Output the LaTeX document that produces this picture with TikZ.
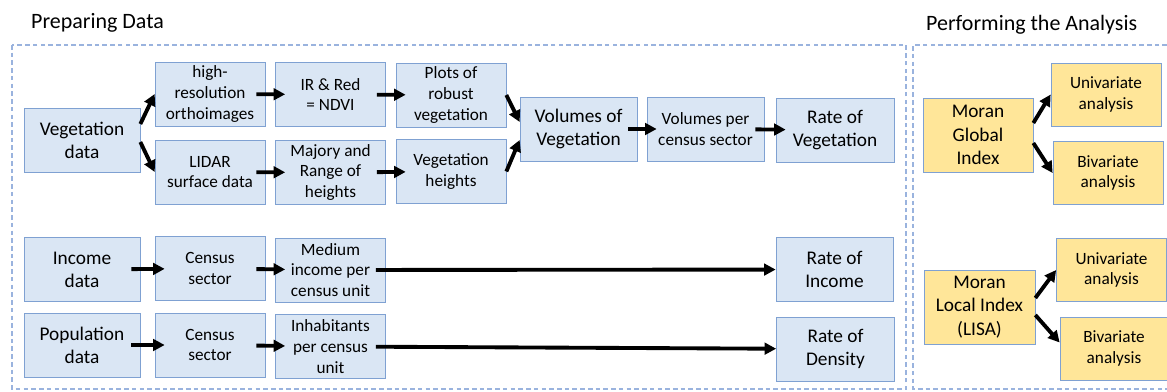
\documentclass[tikz,border=0pt]{standalone}
\usepackage{fontspec}
\setmainfont{Carlito}
\usetikzlibrary{arrows.meta}

\definecolor{boxblue}{HTML}{DAE6F4}
\definecolor{boxyellow}{HTML}{FFE699}
\definecolor{edgeblue}{HTML}{7FA1D2}
\definecolor{frameblue}{HTML}{9AB3DE}

\tikzset{
  smalltext/.style={font=\fontsize{9.8}{11.9}\selectfont},
  bigtext/.style={font=\fontsize{11}{13.2}\selectfont},
  titletext/.style={font=\fontsize{12.5}{15}\selectfont, anchor=west},
  frame/.style={frameblue, line width=1pt, dash pattern=on 2.6pt off 1.8pt},
}

\begin{document}
\begin{tikzpicture}[x=0.02cm,y=-0.02cm]
  \useasboundingbox (0,0) rectangle (1167,392);

  % the two dashed panels
  \draw[frame] (12,45) rectangle (906,389);
  \draw[frame] (1167,45) -- (913,45) -- (913,389) -- (1167,389);
  \node[titletext] (prep) at (25,23) {Preparing Data};
  \node[titletext] (perf) at (920,25) {Performing the Analysis};

  \begin{scope}[every node/.style={draw=edgeblue, fill=boxblue, align=center,
      inner sep=1pt, minimum width=2.2cm, minimum height=1.28cm, smalltext}]
    \node[bigtext, minimum width=2.32cm] (veg) at (82,140)  {Vegetation\\data};
    \node (ortho)    at (210,94)    {high-\\resolution\\orthoimages};
    \node (lidar)    at (210,172)   {LIDAR\\surface data};
    \node (ndvi)     at (330.5,94.5)  {IR \& Red\\= NDVI};
    \node (range)    at (330.5,172.5) {Majory and\\Range of\\heights};
    \node (plots)    at (451,95)    {Plots of\\robust\\vegetation};
    \node (vheights) at (451,171.5) {Vegetation\\heights};
    \node[bigtext, minimum width=2.34cm] (volumes) at (578.5,129) {Volumes of\\Vegetation};
    \node[minimum width=2.34cm] (volsector) at (705.5,129) {Volumes per\\census sector};
    \node[bigtext, minimum width=2.36cm] (rateveg) at (835,130) {Rate of\\Vegetation};

    \node[bigtext, minimum width=2.32cm] (income) at (82,269.5) {Income\\data};
    \node (isector)  at (210,268.5) {Census\\sector};
    \node (medinc)   at (330.5,270) {Medium\\income per\\census unit};
    \node[bigtext, minimum width=2.34cm] (rateinc) at (834.5,269.5) {Rate of\\Income};

    \node[bigtext, minimum width=2.32cm] (pop) at (82,345) {Population\\data};
    \node (psector)  at (210,345)   {Census\\sector};
    \node (inhab)    at (330.5,346.5) {Inhabitants\\per census\\unit};
    \node[bigtext, minimum width=2.36cm] (rateden) at (835.5,349) {Rate of\\Density};
  \end{scope}

  \begin{scope}[every node/.style={draw=edgeblue, fill=boxyellow, align=center,
      inner sep=1pt, minimum width=2.2cm, minimum height=1.26cm, smalltext}]
    \node[bigtext, minimum height=1.48cm] (global) at (978,135) {Moran\\Global\\Index};
    \node (guni) at (1106,94.5) {Univariate\\analysis};
    \node (gbi)  at (1108,173)  {Bivariate\\analysis};
    \node[bigtext, minimum width=2.22cm, minimum height=1.48cm] (local) at (979.5,307) {Moran\\Local Index\\(LISA)};
    \node (luni) at (1111.5,270) {Univariate\\analysis};
    \node[minimum width=2.16cm] (lbi) at (1114,348.5) {Bivariate\\analysis};
  \end{scope}

  \begin{scope}[every edge/.style={draw, line width=2.2pt,
      -{Triangle[length=0.23cm,width=0.23cm]}}]
    % steps along a row
    \begin{scope}[shorten <=-0.18cm, shorten >=-0.2cm]
      \path (ortho)    edge (ndvi);
      \path (ndvi)     edge (plots);
      \path (lidar)    edge (range);
      \path (range)    edge (vheights);
      \path (volumes)  edge (volsector);
      \path (volsector) edge (rateveg);
      \path (income)   edge (isector);
      \path (isector)  edge (medinc);
      \path (pop)      edge (psector);
      \path (psector)  edge (inhab);
    \end{scope}
    \path (medinc) edge[shorten <=-0.2cm] (rateinc);
    \path (inhab)  edge[shorten <=-0.2cm] (rateden);

    % forks and joins
    \path ([yshift=0.32cm]veg.east)  edge (ortho.west);
    \path ([yshift=-0.04cm]veg.east) edge (lidar.west);
    \path (plots.east)    edge ([yshift=0.14cm]volumes.west);
    \path (vheights.east) edge ([yshift=-0.22cm]volumes.west);
    \path ([yshift=0.24cm]global.east)  edge (guni.west);
    \path ([yshift=-0.16cm]global.east) edge (gbi.west);
    \path ([yshift=0.18cm]local.east)   edge (luni.west);
    \path ([yshift=-0.16cm]local.east)  edge ([yshift=0.12cm]lbi.west);
  \end{scope}

\end{tikzpicture}
\end{document}
